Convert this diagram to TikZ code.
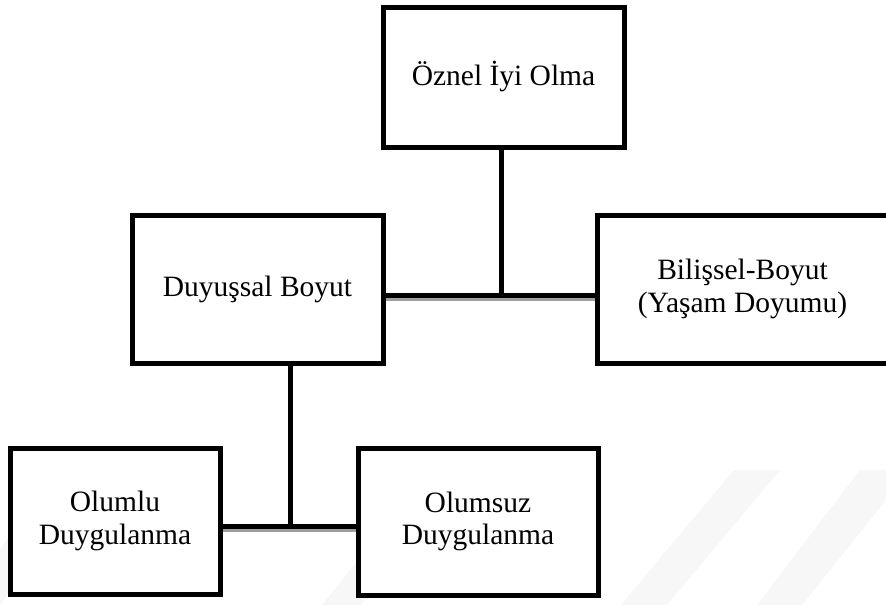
\documentclass[tikz,border=0pt]{standalone}
\usepackage{fontspec}
\setmainfont{Liberation Serif}
\begin{document}
\begin{tikzpicture}[x=1pt,y=-1pt,
  box/.style={draw=black,line width=5pt,fill=white,rectangle,inner sep=0pt,
    align=center,font=\fontsize{29.5}{32.5}\selectfont},
  conn/.style={line width=5pt,black},
  shade/.style={line width=4.5pt,black!38},
  wm/.style={fill=black!3,draw=none}]
\useasboundingbox (0,0) rectangle (886,605);
\fill[white] (0,0) rectangle (886,605);
% faint watermark stripes
\fill[wm] (-40,605) -- (0,605) -- (90,480) -- (50,480) -- cycle;
\fill[wm] (322,605) -- (361,605) -- (470,470) -- (431,470) -- cycle;
\fill[wm] (621,605) -- (667,605) -- (780,470) -- (734,470) -- cycle;
\fill[wm] (757,605) -- (802,605) -- (886,500) -- (886,470) -- (860,470) -- cycle;
% nodes
\node[box,minimum width=241pt,minimum height=140pt] (top) at (503.5,77) {Öznel İyi Olma};
\node[box,minimum width=251pt,minimum height=148pt] (duy) at (257.5,289) {Duyuşsal Boyut};
\node[box,minimum width=291pt,minimum height=148pt] (bil) at (742.5,289) {Bilişsel-Boyut\\(Yaşam Doyumu)};
\node[box,minimum width=210pt,minimum height=146pt] (olu) at (115,521) {Olumlu\\Duygulanma};
\node[box,minimum width=240pt,minimum height=147pt] (olm) at (478,521.5) {Olumsuz\\Duygulanma};
% junctions
\coordinate (j1) at (501,295);
\coordinate (j2) at (290,526);
% shadows
\draw[shade] ([yshift=-4pt]duy.east |- j1) -- ([yshift=-4pt]bil.west |- j1);
\draw[shade] ([yshift=-4pt]olu.east |- j2) -- ([yshift=-4pt]olm.west |- j2);
% connectors
\draw[conn] (top.south -| j1) -- (j1);
\draw[conn] (duy.east |- j1) -- (bil.west |- j1);
\draw[conn] (duy.south -| j2) -- (j2);
\draw[conn] (olu.east |- j2) -- (olm.west |- j2);
\end{tikzpicture}
\end{document}
